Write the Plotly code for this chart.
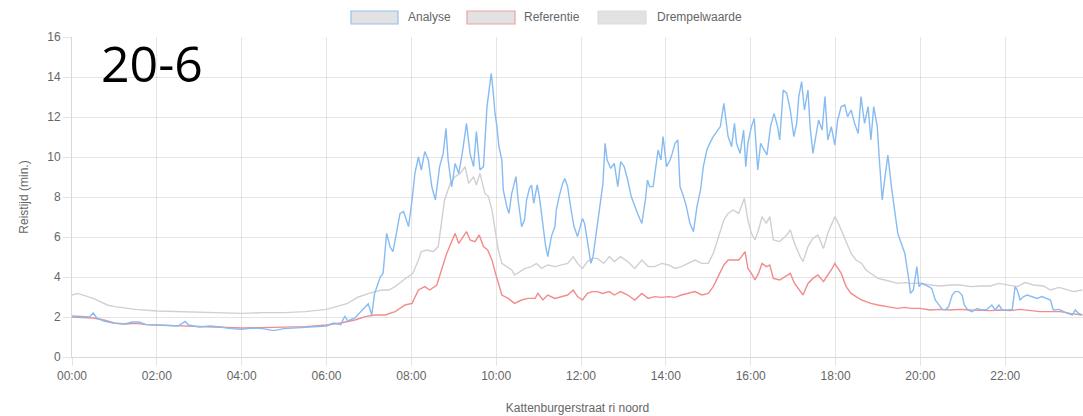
import plotly.graph_objects as go

DAY = "2024-06-20 "

analyse_t = ["00:00","00:15","00:25","00:30","00:35","00:45","01:00","01:15","01:25","01:35","01:45","02:00","02:15","02:30","02:40","02:45","03:00","03:15","03:30","03:45","04:00","04:15","04:30","04:45","05:00","05:15","05:30","05:45","06:00","06:10","06:20","06:26","06:30","06:40","06:50","06:55","06:59","07:04","07:08","07:16","07:20","07:25","07:30","07:34","07:39","07:44","07:49","07:53","07:56","08:01","08:05","08:10","08:14","08:19","08:24","08:29","08:34","08:40","08:45","08:49","08:52","08:57","09:02","09:07","09:12","09:18","09:23","09:28","09:32","09:37","09:42","09:47","09:50","09:53","09:56","09:58","10:01","10:04","10:08","10:10","10:15","10:18","10:22","10:26","10:28","10:31","10:36","10:40","10:43","10:47","10:50","10:53","10:58","11:01","11:06","11:10","11:13","11:18","11:23","11:25","11:29","11:34","11:37","11:41","11:46","11:50","11:55","11:59","12:02","12:05","12:09","12:14","12:17","12:21","12:26","12:31","12:34","12:37","12:42","12:47","12:52","12:56","13:01","13:06","13:11","13:16","13:20","13:26","13:31","13:34","13:37","13:42","13:46","13:49","13:53","13:56","14:01","14:06","14:09","14:13","14:17","14:20","14:25","14:29","14:34","14:39","14:44","14:49","14:53","14:58","15:02","15:07","15:12","15:17","15:22","15:25","15:28","15:33","15:37","15:40","15:45","15:50","15:53","15:56","16:01","16:05","16:10","16:14","16:19","16:23","16:28","16:33","16:38","16:41","16:46","16:51","16:56","17:01","17:05","17:08","17:12","17:16","17:21","17:24","17:28","17:31","17:36","17:41","17:45","17:49","17:54","17:59","18:03","18:08","18:13","18:17","18:22","18:27","18:32","18:36","18:41","18:46","18:50","18:54","18:59","19:02","19:06","19:10","19:14","19:19","19:24","19:28","19:33","19:38","19:43","19:46","19:50","19:55","19:58","20:02","20:07","20:11","20:16","20:21","20:26","20:31","20:35","20:40","20:45","20:49","20:54","20:59","21:02","21:07","21:13","21:20","21:27","21:34","21:41","21:46","21:51","21:56","22:02","22:10","22:14","22:17","22:21","22:26","22:31","22:38","22:45","22:52","22:59","23:04","23:08","23:16","23:23","23:28","23:35","23:39","23:44","23:49"]
analyse_v = [2.05,2.0,2.0,2.2,1.95,1.8,1.68,1.65,1.75,1.75,1.62,1.6,1.58,1.55,1.78,1.6,1.5,1.55,1.5,1.42,1.38,1.45,1.42,1.32,1.42,1.45,1.5,1.52,1.55,1.7,1.62,2.05,1.8,1.95,2.3,2.5,2.66,2.1,3.18,4.0,4.18,6.18,5.5,5.27,6.18,7.18,7.27,6.85,6.52,7.85,9.18,10.0,9.35,10.27,9.85,8.5,7.85,9.52,10.18,11.43,9.85,8.5,9.68,9.18,10.18,11.68,10.18,9.52,11.27,9.35,9.52,12.52,13.52,14.18,13.18,12.3,11.52,10.5,9.85,8.35,7.52,7.18,8.18,8.77,9.02,7.85,6.52,6.85,7.85,8.43,8.6,7.68,8.6,8.02,6.68,5.52,5.02,6.02,6.52,7.35,8.02,8.68,8.93,8.52,7.35,6.52,6.02,6.52,6.93,6.68,5.68,4.68,5.02,6.02,7.35,8.68,10.68,9.85,9.43,9.68,8.52,9.77,9.52,8.85,8.02,7.52,7.18,6.68,7.85,8.85,8.52,8.52,9.52,10.35,9.85,11.02,9.52,9.85,10.18,10.68,10.85,8.52,8.02,7.52,6.68,6.27,7.52,8.35,9.52,10.35,10.68,11.02,11.27,11.52,12.68,11.85,11.02,10.52,11.68,10.68,10.18,11.35,9.52,10.68,11.52,11.93,9.35,10.68,10.35,10.1,11.52,12.18,11.52,10.85,13.35,13.18,12.35,11.02,11.68,13.02,13.77,12.35,13.35,11.52,10.18,10.85,11.85,11.35,13.02,10.85,11.52,10.6,11.85,12.52,12.6,12.02,12.35,11.68,11.18,13.02,11.68,12.52,10.85,12.52,11.52,9.85,7.85,9.02,10.1,8.52,7.18,6.18,5.68,5.18,4.02,3.18,3.35,4.52,3.52,3.68,3.6,3.52,3.43,2.85,2.6,2.38,2.35,2.52,3.1,3.27,3.27,3.1,2.6,2.35,2.27,2.43,2.35,2.38,2.6,2.35,2.6,2.35,2.35,2.38,3.52,3.35,2.85,3.02,3.1,3.02,2.93,3.02,2.93,2.85,2.35,2.38,2.27,2.18,2.1,2.35,2.18,2.1]

referentie_t = ["00:00","00:15","00:30","00:45","01:00","01:15","01:30","01:45","02:00","02:30","03:00","03:30","04:00","04:30","05:00","05:30","06:00","06:20","06:40","06:55","07:08","07:23","07:37","07:51","08:01","08:10","08:19","08:26","08:36","08:43","08:50","08:57","09:02","09:07","09:12","09:18","09:23","09:30","09:36","09:42","09:48","09:54","09:59","10:03","10:08","10:17","10:26","10:36","10:45","10:55","10:59","11:06","11:13","11:23","11:32","11:41","11:49","11:55","12:02","12:09","12:16","12:23","12:30","12:40","12:47","12:56","13:06","13:16","13:26","13:35","13:44","13:54","14:04","14:13","14:22","14:32","14:41","14:51","15:00","15:07","15:14","15:22","15:28","15:35","15:43","15:47","15:52","15:56","16:01","16:06","16:11","16:16","16:22","16:27","16:32","16:41","16:49","16:56","17:02","17:10","17:14","17:21","17:28","17:35","17:43","17:49","17:54","17:59","18:04","18:08","18:15","18:22","18:29","18:37","18:43","18:50","19:00","19:10","19:19","19:28","19:38","19:47","19:59","20:14","20:28","20:43","20:56","21:11","21:25","21:39","21:53","22:07","22:21","22:35","22:49","23:04","23:18","23:32","23:49"]
referentie_v = [2.0,1.98,1.95,1.85,1.7,1.65,1.68,1.62,1.6,1.58,1.52,1.5,1.45,1.47,1.5,1.52,1.6,1.7,1.85,2.02,2.1,2.1,2.27,2.6,2.68,3.35,3.52,3.35,3.6,4.35,5.18,5.77,6.18,5.68,5.93,6.27,5.85,5.77,6.1,5.52,5.35,4.85,4.18,3.68,3.1,2.93,2.68,2.85,2.93,2.93,3.18,2.85,3.1,2.93,3.02,3.1,3.35,3.02,2.85,3.18,3.27,3.27,3.18,3.27,3.1,3.27,3.1,2.85,3.18,2.93,3.02,2.98,3.02,2.98,3.1,3.18,3.27,3.1,3.18,3.52,4.02,4.6,4.85,4.85,4.85,5.02,5.27,4.43,4.18,3.85,4.18,4.68,4.52,4.6,3.93,3.85,4.02,4.18,3.68,3.27,3.1,3.68,3.93,4.1,3.77,4.1,4.35,4.68,4.43,4.18,3.52,3.18,3.02,2.85,2.77,2.68,2.6,2.52,2.48,2.43,2.48,2.43,2.43,2.35,2.38,2.35,2.38,2.35,2.32,2.32,2.35,2.32,2.38,2.32,2.27,2.27,2.27,2.18,2.1]

drempel_t = ["00:00","00:08","00:30","00:50","01:00","01:30","02:00","02:30","03:00","03:30","04:00","04:30","05:00","05:30","06:00","06:30","06:45","07:00","07:18","07:28","07:37","07:49","07:55","08:02","08:10","08:14","08:22","08:31","08:38","08:43","08:47","08:55","09:02","09:09","09:16","09:21","09:28","09:32","09:37","09:44","09:49","09:54","09:59","10:03","10:08","10:15","10:22","10:26","10:34","10:41","10:50","10:57","11:04","11:13","11:23","11:32","11:41","11:49","11:55","12:02","12:09","12:16","12:23","12:32","12:40","12:47","12:56","13:06","13:16","13:26","13:35","13:44","13:54","14:04","14:13","14:22","14:32","14:41","14:51","15:00","15:07","15:14","15:22","15:28","15:35","15:43","15:47","15:51","15:56","16:01","16:06","16:11","16:16","16:22","16:27","16:32","16:41","16:49","16:56","17:02","17:10","17:14","17:21","17:28","17:35","17:43","17:49","17:54","17:59","18:04","18:08","18:15","18:22","18:29","18:37","18:43","18:50","19:00","19:10","19:19","19:28","19:38","19:47","19:59","20:14","20:28","20:43","20:56","21:11","21:25","21:39","21:51","22:02","22:17","22:28","22:40","22:54","23:04","23:16","23:28","23:37","23:49"]
drempel_v = [3.1,3.18,2.93,2.6,2.52,2.38,2.3,2.27,2.22,2.22,2.18,2.22,2.22,2.27,2.38,2.68,3.0,3.18,3.35,3.35,3.52,3.85,4.02,4.18,4.85,5.27,5.35,5.27,5.52,6.68,7.85,8.68,9.02,9.18,9.52,8.68,9.02,8.6,9.18,8.18,8.02,7.35,6.18,5.35,4.68,4.52,4.35,4.1,4.27,4.43,4.52,4.68,4.43,4.6,4.52,4.6,4.68,5.02,4.68,4.43,4.77,4.93,4.93,4.68,5.02,4.77,5.02,4.77,4.43,4.85,4.52,4.52,4.68,4.6,4.43,4.52,4.68,4.85,4.68,4.68,5.18,6.02,6.85,7.18,7.35,7.18,7.52,7.93,6.85,6.18,5.85,6.35,7.02,6.68,7.02,5.85,5.77,6.02,6.35,5.68,5.02,4.77,5.52,5.93,6.1,5.43,6.18,6.6,7.02,6.68,6.35,5.68,5.18,4.85,4.68,4.35,4.18,3.93,3.85,3.77,3.68,3.72,3.68,3.7,3.6,3.55,3.6,3.6,3.52,3.55,3.55,3.68,3.6,3.52,3.72,3.6,3.55,3.35,3.48,3.38,3.27,3.35]

series_names = ["Analyse", "Referentie", "Drempelwaarde"]
line_colors = ["rgb(135,188,242)", "rgb(242,140,140)", "rgb(208,208,210)"]
legend_borders = ["rgb(150,192,235)", "rgb(238,160,160)", "rgb(220,220,220)"]
legend_fill = "rgb(226,226,228)"

y_ticks = [0, 2, 4, 6, 8, 10, 12, 14, 16]
x_title = "Kattenburgerstraat ri noord"
y_title = "Reistijd (min.)"
label = "20-6"

fig = go.Figure()
for name, ts, vs, col in [
    (series_names[2], drempel_t, drempel_v, line_colors[2]),
    (series_names[1], referentie_t, referentie_v, line_colors[1]),
    (series_names[0], analyse_t, analyse_v, line_colors[0]),
]:
    fig.add_trace(go.Scatter(
        x=[DAY + t for t in ts], y=vs, mode="lines", name=name,
        line=dict(color=col, width=1.4), showlegend=False,
    ))

grid = "rgba(0,0,0,0.1)"
font_txt = "Liberation Sans, Arial, sans-serif"

fig.update_xaxes(
    type="date", range=[DAY + "00:00", DAY + "23:50"],
    dtick=2 * 3600 * 1000, tick0=DAY + "00:00", tickformat="%H:%M",
    showgrid=True, gridcolor=grid, gridwidth=1,
    showline=True, linecolor="rgba(0,0,0,0.15)", linewidth=1,
    ticks="outside", ticklen=8, tickcolor=grid,
    tickfont=dict(family=font_txt, size=12, color="#666"),
    title=dict(text=x_title, font=dict(family=font_txt, size=12, color="#666"), standoff=21),
    zeroline=False,
)
fig.update_yaxes(
    range=[0, 16], tickvals=y_ticks,
    showgrid=True, gridcolor=grid, gridwidth=1,
    showline=True, linecolor="rgba(0,0,0,0.15)", linewidth=1,
    ticks="outside", ticklen=8, tickcolor=grid,
    tickfont=dict(family=font_txt, size=12, color="#666"),
    title=dict(text=y_title, font=dict(family=font_txt, size=12, color="#666"), standoff=16),
    zeroline=False,
)

W = 1011.0
H = 320.0
def px(xp):
    return (xp - 72) / W
def py(yp):
    return (357 - yp) / H

box_x = [(351, 398), (467, 515), (598, 646)]
text_x = [406, 522, 655]
shapes = []
annotations = []
for i, nm in enumerate(series_names):
    shapes.append(dict(type="rect", xref="paper", yref="paper",
                       x0=px(box_x[i][0]), x1=px(box_x[i][1]), y0=py(24), y1=py(11),
                       fillcolor=legend_fill, line=dict(color=legend_borders[i], width=1.2)))
    annotations.append(dict(xref="paper", yref="paper", x=px(text_x[i]), y=py(17.5),
                            text=nm, showarrow=False, xanchor="left", yanchor="middle",
                            font=dict(family=font_txt, size=12, color="#666")))

annotations.append(dict(xref="paper", yref="paper", x=px(152), y=py(63), text=label,
                        showarrow=False, xanchor="center", yanchor="middle",
                        font=dict(family="Open Sans, Noto Sans, sans-serif", size=50, color="#000")))

fig.update_layout(
    width=1083, height=416,
    margin=dict(l=72, r=0, t=37, b=59),
    paper_bgcolor="white", plot_bgcolor="white",
    shapes=shapes, annotations=annotations,
    showlegend=False,
)

fig.write_html("out.html", config={"displayModeBar": False},
               post_script="document.body.style.margin='0';")
